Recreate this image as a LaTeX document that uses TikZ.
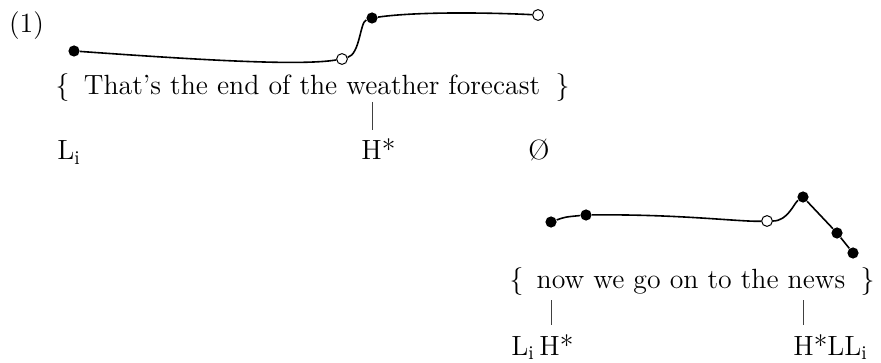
\documentclass[tikz,border=0pt]{standalone}
\usepackage{fontspec}
\usetikzlibrary{positioning}
\begin{document}
\begin{tikzpicture}[x=0.5pt,y=-0.5pt,
  font=\fontsize{13.9}{17}\selectfont,
  hi/.style={circle, fill=black, inner sep=0pt, minimum size=5.6pt},
  lo/.style={circle, draw=black, fill=white, line width=0.5pt, inner sep=0pt, minimum size=5.4pt},
  pitch/.style={line width=0.8pt},
  tick/.style={line width=0.4pt, draw=black!75},
  words/.style={anchor=base, inner sep=0pt},
  tone/.style={anchor=base west, inner sep=0pt, outer ysep=4.5pt}
]
  \useasboundingbox (0,0) rectangle (881,363);
  \node (ex) at (26.5,25.5) {(1)};

  % first phrase: pitch track
  \node[hi] (p1) at (74,51) {};
  \node[lo] (p2) at (342,59) {};
  \node[hi] (p3) at (372,18) {};
  \node[lo] (p4) at (538,15) {};
  \draw[pitch] (p1) .. controls (200,60) and (300,66) .. (p2);
  \draw[pitch] (p2) .. controls (360,54) and (360,22) .. (p3);
  \draw[pitch] (p3) .. controls (420,11) and (500,13) .. (p4);

  % first phrase: text and tones
  \node[words] (lb1) at (62.5,95) {\{};
  \node[words] (utt1) at (312,95) {That’s the end of the weather forecast};
  \node[words] (rb1) at (562.5,95) {\}};
  \node[tone] (li1) at (57,160) {L\textsubscript{i}};
  \node[tone] (hs1) at (361,160) {H*};
  \node[tone, anchor=base] (null1) at (539,160) {Ø};
  \coordinate (k1) at (372,102);
  \draw[tick] (k1) -- (k1 |- hs1.north);

  % second phrase: pitch track
  \node[hi] (q1) at (551,222) {};
  \node[hi] (q2) at (586,215) {};
  \node[lo] (q3) at (767,221) {};
  \node[hi] (q4) at (803,197) {};
  \node[hi] (q5) at (837,233) {};
  \node[hi] (q6) at (853,253) {};
  \draw[pitch] (q1) .. controls (565,217) .. (q2);
  \draw[pitch] (q2) .. controls (680,214) and (740,222) .. (q3);
  \draw[pitch] (q3) .. controls (788,221) and (794,203) .. (q4);
  \draw[pitch] (q4) -- (q5) -- (q6);

  % second phrase: text and tones
  \node[words] (lb2) at (516.5,288) {\{};
  \node[words] (utt2) at (691,288) {now we go on to the news};
  \node[words] (rb2) at (867.5,288) {\}};
  \node[tone] (lh2) at (511,355) {L\textsubscript{i}\,H*};
  \node[tone] (hll2) at (793,355) {H*LL\textsubscript{i}};
  \coordinate (k2) at (551,300);
  \coordinate (k3) at (803,300);
  \draw[tick] (k2) -- (k2 |- lh2.north);
  \draw[tick] (k3) -- (k3 |- hll2.north);
\end{tikzpicture}
\end{document}
